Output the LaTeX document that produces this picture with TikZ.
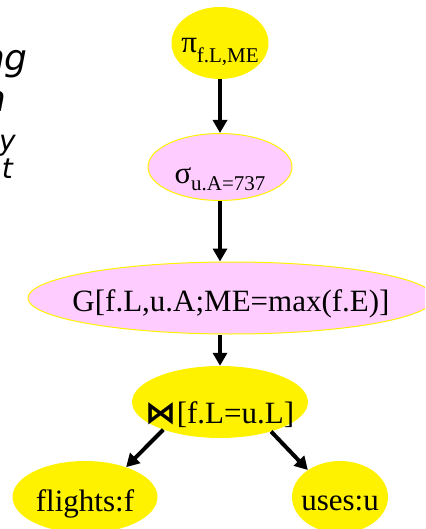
\documentclass[tikz,border=0pt]{standalone}
\usepackage{fontspec}
\setmainfont{Liberation Serif}
\newfontfamily\symfont{DejaVu Sans}
\newfontfamily\slidefont{DejaVu Sans}
\usetikzlibrary{shapes.geometric,arrows.meta}
\definecolor{ylw}{RGB}{255,242,0}
\definecolor{pnk}{RGB}{255,204,255}
\newcommand\zw[1]{\makebox[0pt]{#1}}
\newcommand\subtxt[2]{\raisebox{-#1}{\fontsize{21}{24}\selectfont #2}}
\begin{document}
\begin{tikzpicture}[x=1pt,y=-1pt,
  opnode/.style={ellipse, inner sep=0pt, text depth=0pt, font=\fontsize{31}{36}\selectfont},
  ynode/.style={opnode, fill=ylw},
  pnode/.style={opnode, fill=pnk, draw=ylw, line width=1pt},
  flow/.style={line width=4pt, -{Triangle[width=14pt,length=13pt]}},
  frag/.style={anchor=base east, inner sep=0pt}
]
\useasboundingbox (0,0) rectangle (425,529);
\clip (0,0) rectangle (425,529);
% slide text fragments
\node[frag, font=\slidefont\itshape\fontsize{36}{40}\selectfont] (f1) at (28,71) {ng};
\node[frag, font=\slidefont\itshape\fontsize{36}{40}\selectfont] (f2) at (7,112) {n};
\node[frag, font=\slidefont\itshape\fontsize{28}{32}\selectfont] (f3) at (16,151) {y};
\node[frag, font=\slidefont\itshape\fontsize{28}{32}\selectfont] (f4) at (13,179) {t};
% plan nodes
\node[ynode, minimum width=97pt, minimum height=72pt, text height=20pt] (pi) at (220,43)
  {\zw{π\subtxt{10pt}{f.L,ME}}};
\node[pnode, minimum width=144pt, minimum height=67pt, text height=34pt] (sigma) at (220,167)
  {\zw{σ\subtxt{6pt}{u.A=737}}};
\node[pnode, minimum width=406pt, minimum height=72pt, text height=26pt] (G) at (231,298)
  {\zw{G[f.L,u.A;ME=max(f.E)]}};
\node[ynode, minimum width=176pt, minimum height=72pt, text height=42pt] (bowtie) at (220,402)
  {\zw{{\symfont\bfseries ⋈}[f.L=u.L]}};
\node[ynode, minimum width=145pt, minimum height=72pt, text height=28pt] (flights) at (85,497)
  {\zw{flights:f}};
\node[ynode, minimum width=96pt, minimum height=72pt, text height=26pt] (uses) at (340,497)
  {\zw{uses:u}};
% connectors
\draw[flow] (pi.south) -- (sigma.north);
\draw[flow] (sigma.south) -- (G.north -| sigma.south);
\draw[flow] (G.south -| bowtie.north) -- (bowtie.north);
\draw[flow] (bowtie.206) -- (flights.36);
\draw[flow] (bowtie.330) -- (uses.140);
\end{tikzpicture}
\end{document}
